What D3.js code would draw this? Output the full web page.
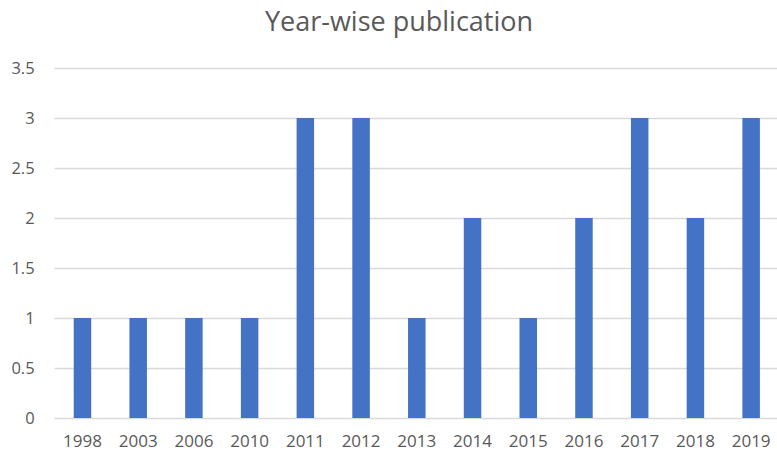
<!DOCTYPE html>
<html><head><meta charset="utf-8">
<script src="https://cdn.jsdelivr.net/npm/d3@7"></script>
<style>body{margin:0;background:#fff;} text{font-family:"Open Sans",sans-serif;}</style>
</head><body>
<svg id="c" width="777" height="454"></svg>
<script>
const categories = ["1998","2003","2006","2010","2011","2012","2013","2014","2015","2016","2017","2018","2019"];
const values = [1,1,1,1,3,3,1,2,1,2,3,2,3];
const yTicks = [0,0.5,1,1.5,2,2.5,3,3.5];
const title = "Year-wise publication";

(function () {
const svg = d3.select("#c");
const mLeft = 54.6, mRight = 779, mTop = 68, mBottom = 418;
const x = d3.scaleBand().domain(categories).range([mLeft, mRight]).paddingInner(0.686).paddingOuter(0.343);
const y = d3.scaleLinear().domain([0, 3.5]).range([mBottom, mTop]);

svg.append("text").attr("x", 399).attr("y", 31).attr("text-anchor", "middle")
  .attr("font-size", 27).attr("fill", "#595959").text(title);

const yAxis = svg.append("g").attr("transform", `translate(${mLeft},0)`)
  .call(d3.axisLeft(y).tickValues(yTicks).tickSize(-(777 - mLeft)).tickFormat(d => String(d)).tickPadding(20));
yAxis.select(".domain").remove();
yAxis.selectAll(".tick line").attr("stroke", "#d9d9d9").attr("stroke-width", 1.3);
yAxis.selectAll(".tick text").attr("font-size", 16.5).attr("fill", "#595959").attr("font-family", "Open Sans");

svg.append("g").selectAll("rect").data(values).join("rect")
  .attr("x", (d, i) => x(categories[i])).attr("width", x.bandwidth())
  .attr("y", d => y(d)).attr("height", d => y(0) - y(d)).attr("fill", "#4472c4");

const xAxis = svg.append("g").attr("transform", `translate(0,${mBottom})`)
  .call(d3.axisBottom(x).tickSize(0).tickPadding(17));
xAxis.select(".domain").remove();
xAxis.selectAll(".tick text").attr("font-size", 17).attr("fill", "#595959").attr("font-family", "Open Sans");
})();
</script>
</body></html>
